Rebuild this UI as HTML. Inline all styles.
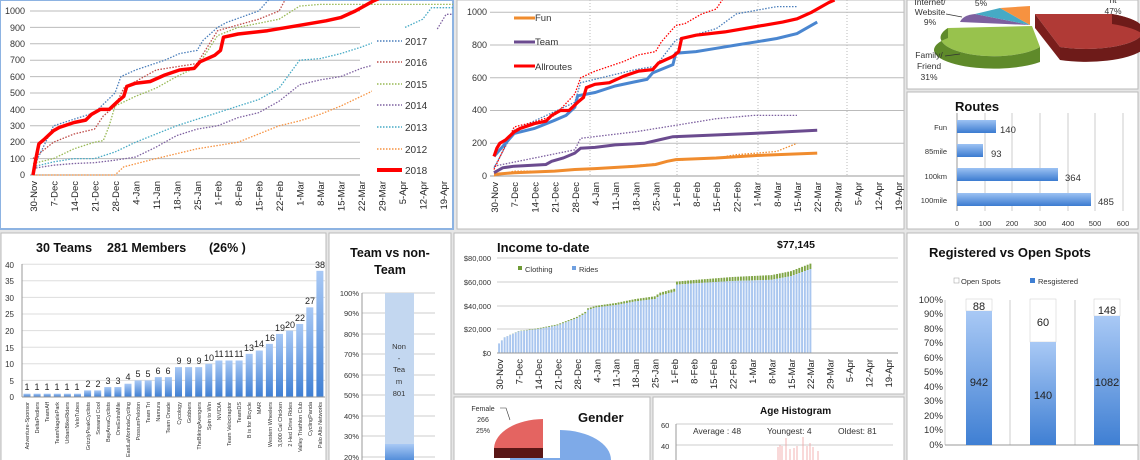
<!DOCTYPE html>
<html><head><meta charset="utf-8"><style>
html,body{margin:0;padding:0;background:#e6e6e6;}
svg{display:block;font-family:"Liberation Sans",sans-serif;}
.t{font-size:9px;fill:#333}
.d{font-size:9.5px;fill:#222}
</style></head><body>
<svg id="s" width="1140" height="460" viewBox="0 0 1140 460" xmlns="http://www.w3.org/2000/svg">
<defs>
<linearGradient id="bv" x1="0" y1="0" x2="0" y2="1"><stop offset="0" stop-color="#a9c9f5"/><stop offset="1" stop-color="#3f7fd3"/></linearGradient>
<linearGradient id="bh" x1="0" y1="0" x2="0" y2="1"><stop offset="0" stop-color="#9cc2f3"/><stop offset="1" stop-color="#3b7bd0"/></linearGradient>
<clipPath id="c1"><rect x="0" y="0" width="453" height="229"/></clipPath>
<clipPath id="c2"><rect x="456" y="0" width="448" height="229"/></clipPath>
</defs>
<rect x="0" y="0" width="453" height="229" fill="#fff" stroke="#8db3e2" stroke-width="2"/>
<rect x="457" y="0" width="447" height="229" fill="#fff" stroke="#bbb"/>
<rect x="907" y="0" width="231" height="89" fill="#fff" stroke="#bbb"/>
<rect x="907" y="92" width="231" height="137" fill="#fff" stroke="#bbb"/>
<rect x="907" y="233" width="231" height="230" fill="#fff" stroke="#bbb"/>
<rect x="1" y="233" width="325" height="230" fill="#fff" stroke="#bbb"/>
<rect x="329" y="233" width="122" height="230" fill="#fff" stroke="#bbb"/>
<rect x="454" y="233" width="450" height="161" fill="#fff" stroke="#bbb"/>
<rect x="454" y="397" width="196" height="66" fill="#fff" stroke="#bbb"/>
<rect x="653" y="397" width="251" height="66" fill="#fff" stroke="#bbb"/>

<g id="g1" clip-path="url(#c1)">
<g stroke="#999" stroke-width="1">
<line x1="30" y1="175" x2="360" y2="175"/>
</g>
<g class="t" text-anchor="end">
<text x="25" y="178">0</text><text x="25" y="162">100</text><text x="25" y="145">200</text><text x="25" y="129">300</text><text x="25" y="113">400</text><text x="25" y="96">500</text><text x="25" y="80">600</text><text x="25" y="63">700</text><text x="25" y="47">800</text><text x="25" y="31">900</text><text x="25" y="14">1000</text>
</g>
<g class="d" text-anchor="end">
<text transform="translate(37,181) rotate(-90)">30-Nov</text><text transform="translate(57.5,181) rotate(-90)">7-Dec</text><text transform="translate(78,181) rotate(-90)">14-Dec</text><text transform="translate(98.5,181) rotate(-90)">21-Dec</text><text transform="translate(119,181) rotate(-90)">28-Dec</text><text transform="translate(139.5,181) rotate(-90)">4-Jan</text><text transform="translate(160,181) rotate(-90)">11-Jan</text><text transform="translate(180.5,181) rotate(-90)">18-Jan</text><text transform="translate(201,181) rotate(-90)">25-Jan</text><text transform="translate(221.5,181) rotate(-90)">1-Feb</text><text transform="translate(242,181) rotate(-90)">8-Feb</text><text transform="translate(262.5,181) rotate(-90)">15-Feb</text><text transform="translate(283,181) rotate(-90)">22-Feb</text><text transform="translate(303.5,181) rotate(-90)">1-Mar</text><text transform="translate(324,181) rotate(-90)">8-Mar</text><text transform="translate(344.5,181) rotate(-90)">15-Mar</text><text transform="translate(365,181) rotate(-90)">22-Mar</text><text transform="translate(385.5,181) rotate(-90)">29-Mar</text><text transform="translate(406,181) rotate(-90)">5-Apr</text><text transform="translate(426.5,181) rotate(-90)">12-Apr</text><text transform="translate(447,181) rotate(-90)">19-Apr</text>
</g>
<rect x="372" y="30" width="75" height="145" fill="#fff"/>
<g font-size="10" fill="#333">
<text x="405" y="45">2017</text><text x="405" y="66">2016</text><text x="405" y="88">2015</text><text x="405" y="109">2014</text><text x="405" y="131">2013</text><text x="405" y="153">2012</text><text x="405" y="174">2018</text>
</g>
<g stroke-width="1.5" stroke-dasharray="1.5,1.5">
<line x1="377" y1="41" x2="402" y2="41" stroke="#4a7ebb"/><line x1="377" y1="62" x2="402" y2="62" stroke="#be4b48"/><line x1="377" y1="84" x2="402" y2="84" stroke="#98b954"/><line x1="377" y1="105" x2="402" y2="105" stroke="#7d60a0"/><line x1="377" y1="127" x2="402" y2="127" stroke="#46aac5"/><line x1="377" y1="149" x2="402" y2="149" stroke="#f69240"/>
</g>
<line x1="377" y1="170" x2="402" y2="170" stroke="#f00" stroke-width="4"/>
</g>

<g id="g2" clip-path="url(#c2)">
<g class="t" text-anchor="end">
<text x="487" y="179">0</text><text x="487" y="146">200</text><text x="487" y="113">400</text><text x="487" y="81">600</text><text x="487" y="48">800</text><text x="487" y="15">1000</text>
</g>
<g class="d" text-anchor="end">
<text transform="translate(498,182) rotate(-90)">30-Nov</text><text transform="translate(518.2,182) rotate(-90)">7-Dec</text><text transform="translate(538.4,182) rotate(-90)">14-Dec</text><text transform="translate(558.6,182) rotate(-90)">21-Dec</text><text transform="translate(578.8,182) rotate(-90)">28-Dec</text><text transform="translate(599,182) rotate(-90)">4-Jan</text><text transform="translate(619.2,182) rotate(-90)">11-Jan</text><text transform="translate(639.4,182) rotate(-90)">18-Jan</text><text transform="translate(659.6,182) rotate(-90)">25-Jan</text><text transform="translate(679.8,182) rotate(-90)">1-Feb</text><text transform="translate(700,182) rotate(-90)">8-Feb</text><text transform="translate(720.2,182) rotate(-90)">15-Feb</text><text transform="translate(740.4,182) rotate(-90)">22-Feb</text><text transform="translate(760.6,182) rotate(-90)">1-Mar</text><text transform="translate(780.8,182) rotate(-90)">8-Mar</text><text transform="translate(801,182) rotate(-90)">15-Mar</text><text transform="translate(821.2,182) rotate(-90)">22-Mar</text><text transform="translate(841.4,182) rotate(-90)">29-Mar</text><text transform="translate(861.6,182) rotate(-90)">5-Apr</text><text transform="translate(881.8,182) rotate(-90)">12-Apr</text><text transform="translate(902,182) rotate(-90)">19-Apr</text>
</g>
<g font-size="9.5" fill="#333"><text x="535" y="21">Fun</text><text x="535" y="45">Team</text><text x="535" y="70">Allroutes</text></g>
<line x1="514" y1="18" x2="535" y2="18" stroke="#f08c2e" stroke-width="3"/>
<line x1="514" y1="42" x2="535" y2="42" stroke="#6b4b8f" stroke-width="3"/>
<line x1="514" y1="66" x2="535" y2="66" stroke="#f00" stroke-width="3"/>
</g>

<g>
<path d="M1035,14 L1112,14 A50,16 0 0 1 1060,47 Z" fill="#b03a36"/>
<path d="M1060,47 A50,16 0 0 0 1112,14 L1112,24 A50,16 0 0 1 1060,60 Z" fill="#6e1b19"/>
<path d="M1035,14 L1060,47 L1060,60 L1035,28 Z" fill="#7a1e1c"/>
<path d="M1032,26 L948,28 A40,14 0 0 0 1040,47 Z" fill="#98c24d"/>
<path d="M948,28 A40,14 0 0 0 1040,47 L1040,62 A45,14 0 0 1 948,38 Z" fill="#5f8a2a"/>
<path d="M1030,25 L960,22 Q963,15 975,14 Z" fill="#7d60a0"/>
<path d="M1030,25 L975,14 L1000,8 Z" fill="#46aac5"/>
<path d="M1030,25 L1000,8 L1030,6 Z" fill="#f69240"/>
<g font-size="8.5" fill="#333" text-anchor="middle">
<text x="930" y="5">Internet/</text><text x="930" y="15">Website</text><text x="930" y="25">9%</text>
<text x="981" y="6">5%</text>
<text x="1113" y="3">nt</text><text x="1113" y="14">47%</text>
<text x="929" y="58">Family/</text><text x="929" y="69">Friend</text><text x="929" y="80">31%</text>
</g>
<polyline points="946,14 962,17" stroke="#333" fill="none" stroke-width="0.7"/>
<polyline points="945,56 960,54" stroke="#333" fill="none" stroke-width="0.7"/>
</g>

<g>
<text x="955" y="111" font-size="13" font-weight="bold" fill="#111">Routes</text>
<g stroke="#ccc"><line x1="985" y1="113" x2="985" y2="211"/><line x1="1012" y1="113" x2="1012" y2="211"/><line x1="1040" y1="113" x2="1040" y2="211"/><line x1="1068" y1="113" x2="1068" y2="211"/><line x1="1095" y1="113" x2="1095" y2="211"/><line x1="1123" y1="113" x2="1123" y2="211"/></g>
<line x1="957" y1="113" x2="957" y2="211" stroke="#999"/>
<rect x="957" y="120" width="39" height="13" fill="url(#bh)"/>
<rect x="957" y="144" width="26" height="13" fill="url(#bh)"/>
<rect x="957" y="168" width="101" height="13" fill="url(#bh)"/>
<rect x="957" y="193" width="134" height="13" fill="url(#bh)"/>
<g font-size="7.5" fill="#333" text-anchor="end"><text x="947" y="130">Fun</text><text x="947" y="154">85mile</text><text x="947" y="179">100km</text><text x="947" y="203">100mile</text></g>
<g font-size="9.5" fill="#333"><text x="1000" y="133">140</text><text x="991" y="157">93</text><text x="1065" y="181">364</text><text x="1098" y="205">485</text></g>
<g font-size="7.5" fill="#333" text-anchor="middle"><text x="957" y="226">0</text><text x="985" y="226">100</text><text x="1012" y="226">200</text><text x="1040" y="226">300</text><text x="1068" y="226">400</text><text x="1095" y="226">500</text><text x="1123" y="226">600</text></g>
</g>

<g>
<text x="929" y="257" font-size="13" font-weight="bold" fill="#111">Registered vs Open Spots</text>
<rect x="954" y="278" width="5" height="5" fill="#fff" stroke="#999" stroke-width="0.5"/><text x="961" y="284" font-size="7.5" fill="#333">Open Spots</text>
<rect x="1030" y="278" width="5" height="5" fill="#3f7fd3"/><text x="1038" y="284" font-size="7.5" fill="#333">Resgistered</text>
<g stroke="#ccc"><line x1="945" y1="300" x2="945" y2="445"/><line x1="1010" y1="300" x2="1010" y2="445"/><line x1="1075" y1="300" x2="1075" y2="445"/><line x1="1138" y1="300" x2="1138" y2="445"/></g>
<line x1="945" y1="445" x2="1138" y2="445" stroke="#999"/>
<g font-size="9.5" fill="#333" text-anchor="end">
<text x="943" y="303">100%</text><text x="943" y="317">90%</text><text x="943" y="332">80%</text><text x="943" y="346">70%</text><text x="943" y="361">60%</text><text x="943" y="375">50%</text><text x="943" y="390">40%</text><text x="943" y="404">30%</text><text x="943" y="419">20%</text><text x="943" y="433">10%</text><text x="943" y="448">0%</text>
</g>
<rect x="966" y="299" width="26" height="12" fill="#fff" stroke="#ccc" stroke-width="0.5"/>
<rect x="966" y="311" width="26" height="134" fill="url(#bv)"/>
<rect x="1030" y="299" width="26" height="43" fill="#fff" stroke="#ccc" stroke-width="0.5"/>
<rect x="1030" y="342" width="26" height="103" fill="url(#bv)"/>
<rect x="1094" y="299" width="26" height="17" fill="#fff" stroke="#ccc" stroke-width="0.5"/>
<rect x="1094" y="316" width="26" height="129" fill="url(#bv)"/>
<g font-size="11" fill="#222" text-anchor="middle">
<text x="979" y="310">88</text><text x="979" y="386">942</text>
<text x="1043" y="326">60</text><text x="1043" y="399">140</text>
<text x="1107" y="314">148</text><text x="1107" y="386">1082</text>
</g>
</g>

<g id="gt">
<g font-size="12.5" font-weight="bold" fill="#111"><text x="36" y="252">30 Teams</text><text x="107" y="252">281 Members</text><text x="209" y="252">(26% )</text></g>
<line x1="22" y1="264" x2="22" y2="397" stroke="#999"/>
<line x1="22" y1="397" x2="325" y2="397" stroke="#999"/>
<g font-size="8" fill="#333" text-anchor="end">
<text x="14" y="400">0</text><text x="14" y="384">5</text><text x="14" y="367">10</text><text x="14" y="351">15</text><text x="14" y="334">20</text><text x="14" y="317">25</text><text x="14" y="301">30</text><text x="14" y="284">35</text><text x="14" y="268">40</text>
</g>
<g font-size="9" fill="#222" text-anchor="middle" id="tv">
<text x="27" y="390">1</text><text x="37" y="390">1</text><text x="47" y="390">1</text><text x="57" y="390">1</text><text x="67" y="390">1</text><text x="77" y="390">1</text><text x="88" y="387">2</text><text x="98" y="387">2</text><text x="108" y="384">3</text><text x="118" y="384">3</text><text x="128" y="380">4</text><text x="138" y="377">5</text><text x="148" y="377">5</text><text x="158" y="374">6</text><text x="168" y="374">6</text><text x="179" y="364">9</text><text x="189" y="364">9</text><text x="199" y="364">9</text><text x="209" y="361">10</text><text x="219" y="357">11</text><text x="229" y="357">11</text><text x="239" y="357">11</text><text x="249" y="351">13</text><text x="259" y="347">14</text><text x="270" y="341">16</text><text x="280" y="331">19</text><text x="290" y="328">20</text><text x="300" y="321">22</text><text x="310" y="304">27</text><text x="320" y="268">38</text>
</g>
<g font-size="5.5" fill="#333" text-anchor="end">
<text transform="translate(29,402) rotate(-90)">Adventure-Sponsor</text><text transform="translate(39,402) rotate(-90)">DeltaPedlers</text><text transform="translate(49,402) rotate(-90)">TeamAff</text><text transform="translate(59,402) rotate(-90)">TeamNagelePark</text><text transform="translate(69,402) rotate(-90)">UrbanBikeRiders</text><text transform="translate(79,402) rotate(-90)">VeloTubes</text><text transform="translate(90,402) rotate(-90)">GrizzlyPeakCyclists</text><text transform="translate(100,402) rotate(-90)">Sowand Cool</text><text transform="translate(110,402) rotate(-90)">BayAreaCyclists</text><text transform="translate(120,402) rotate(-90)">OneExtraMile</text><text transform="translate(130,402) rotate(-90)">EastLaMorindaCycling</text><text transform="translate(140,402) rotate(-90)">PossumPeloton</text><text transform="translate(150,402) rotate(-90)">Team Tri</text><text transform="translate(160,402) rotate(-90)">Namura</text><text transform="translate(170,402) rotate(-90)">Team Onade</text><text transform="translate(181,402) rotate(-90)">Cycology</text><text transform="translate(191,402) rotate(-90)">Gobbers</text><text transform="translate(201,402) rotate(-90)">TheBikingAvengers</text><text transform="translate(211,402) rotate(-90)">Spin to Win</text><text transform="translate(221,402) rotate(-90)">NVIDIA</text><text transform="translate(231,402) rotate(-90)">Team Velociraptor</text><text transform="translate(241,402) rotate(-90)">TeamDS</text><text transform="translate(251,402) rotate(-90)">B is for Bicycle</text><text transform="translate(261,402) rotate(-90)">MAR</text><text transform="translate(272,402) rotate(-90)">Western Wheelers</text><text transform="translate(282,402) rotate(-90)">3,000 Cal Chicken</text><text transform="translate(292,402) rotate(-90)">2 Hed Drive Rides</text><text transform="translate(302,402) rotate(-90)">Valley Triathlon Club</text><text transform="translate(312,402) rotate(-90)">CyclingPanda</text><text transform="translate(322,402) rotate(-90)">Palo Alto Networks</text>
</g>
</g>

<g>
<text x="390" y="257" font-size="12.5" font-weight="bold" fill="#111" text-anchor="middle">Team vs non-</text>
<text x="390" y="274" font-size="12.5" font-weight="bold" fill="#111" text-anchor="middle">Team</text>
<g stroke="#ccc"><line x1="362" y1="293" x2="435" y2="293"/><line x1="362" y1="313" x2="435" y2="313"/><line x1="362" y1="334" x2="435" y2="334"/><line x1="362" y1="354" x2="435" y2="354"/><line x1="362" y1="375" x2="435" y2="375"/><line x1="362" y1="395" x2="435" y2="395"/><line x1="362" y1="416" x2="435" y2="416"/><line x1="362" y1="436" x2="435" y2="436"/><line x1="362" y1="457" x2="435" y2="457"/></g>
<line x1="362" y1="293" x2="362" y2="460" stroke="#999"/>
<g font-size="7.5" fill="#333" text-anchor="end">
<text x="359" y="296">100%</text><text x="359" y="316">90%</text><text x="359" y="337">80%</text><text x="359" y="357">70%</text><text x="359" y="378">60%</text><text x="359" y="398">50%</text><text x="359" y="419">40%</text><text x="359" y="439">30%</text><text x="359" y="460">20%</text>
</g>
<rect x="385" y="293" width="29" height="152" fill="#c3d7f0"/>
<rect x="385" y="444" width="29" height="20" fill="url(#bv)"/>
<g font-size="7.5" fill="#333" text-anchor="middle"><text x="399" y="349">Non</text><text x="399" y="361">-</text><text x="399" y="372">Tea</text><text x="399" y="384">m</text><text x="399" y="396">801</text></g>
</g>

<g id="gi">
<text x="497" y="252" font-size="13" font-weight="bold" fill="#111">Income to-date</text>
<text x="777" y="248" font-size="10.5" font-weight="bold" fill="#111">$77,145</text>
<g stroke="#ccc"><line x1="497" y1="258" x2="898" y2="258"/><line x1="497" y1="282" x2="898" y2="282"/><line x1="497" y1="306" x2="898" y2="306"/><line x1="497" y1="329" x2="898" y2="329"/></g>
<line x1="497" y1="353" x2="898" y2="353" stroke="#999"/>
<g font-size="7.5" fill="#333" text-anchor="end"><text x="491" y="261">$80,000</text><text x="491" y="285">$60,000</text><text x="491" y="309">$40,000</text><text x="491" y="332">$20,000</text><text x="491" y="356">$0</text></g>
<rect x="518" y="266" width="4" height="4" fill="#6e9a35"/><text x="525" y="272" font-size="7.5" fill="#333">Clothing</text>
<rect x="572" y="266" width="4" height="4" fill="#6fa0e0"/><text x="579" y="272" font-size="7.5" fill="#333">Rides</text>
<g class="d" font-size="8.5" text-anchor="end">
<text transform="translate(503,359) rotate(-90)">30-Nov</text><text transform="translate(522.5,359) rotate(-90)">7-Dec</text><text transform="translate(542,359) rotate(-90)">14-Dec</text><text transform="translate(561.4,359) rotate(-90)">21-Dec</text><text transform="translate(580.8,359) rotate(-90)">28-Dec</text><text transform="translate(600.3,359) rotate(-90)">4-Jan</text><text transform="translate(619.7,359) rotate(-90)">11-Jan</text><text transform="translate(639.2,359) rotate(-90)">18-Jan</text><text transform="translate(658.6,359) rotate(-90)">25-Jan</text><text transform="translate(678,359) rotate(-90)">1-Feb</text><text transform="translate(697.5,359) rotate(-90)">8-Feb</text><text transform="translate(717,359) rotate(-90)">15-Feb</text><text transform="translate(736.4,359) rotate(-90)">22-Feb</text><text transform="translate(755.8,359) rotate(-90)">1-Mar</text><text transform="translate(775.3,359) rotate(-90)">8-Mar</text><text transform="translate(794.8,359) rotate(-90)">15-Mar</text><text transform="translate(814.2,359) rotate(-90)">22-Mar</text><text transform="translate(833.6,359) rotate(-90)">29-Mar</text><text transform="translate(853,359) rotate(-90)">5-Apr</text><text transform="translate(872.5,359) rotate(-90)">12-Apr</text><text transform="translate(892,359) rotate(-90)">19-Apr</text>
</g>
</g>

<g>
<text x="578" y="422" font-size="13" font-weight="bold" fill="#111">Gender</text>
<g font-size="7" fill="#333" text-anchor="middle"><text x="483" y="411">Female</text><text x="483" y="422">266</text><text x="483" y="433">25%</text></g>
<polyline points="500,408 506,408 510,420" fill="none" stroke="#333" stroke-width="0.6"/>
<path d="M543,419 L543,448 L494,448 A50,30 0 0 1 543,419 Z" fill="#e46461"/>
<rect x="494" y="448" width="49" height="10" fill="#5a1716"/>
<path d="M560,430 L560,460 L611,460 A52,30 0 0 0 560,430 Z" fill="#7eaae8"/>
<rect x="510" y="458" width="50" height="3" fill="#7eaae8"/>
</g>

<g>
<text x="760" y="414" font-size="10" font-weight="bold" fill="#111">Age Histogram</text>
<text x="661" y="428" font-size="7.5" fill="#333">60</text><text x="661" y="449" font-size="7.5" fill="#333">40</text>
<line x1="676" y1="424" x2="893" y2="424" stroke="#ccc"/><line x1="676" y1="445" x2="893" y2="445" stroke="#ccc"/>
<line x1="676" y1="424" x2="676" y2="460" stroke="#999"/>
<g font-size="8.5" fill="#333"><text x="693" y="434">Average : 48</text><text x="767" y="434">Youngest: 4</text><text x="838" y="434">Oldest: 81</text></g>
<g stroke="#f0a0a0" stroke-width="0.8"><line x1="778" y1="460" x2="778" y2="447"/><line x1="780" y1="460" x2="780" y2="445"/><line x1="782" y1="460" x2="782" y2="446"/><line x1="786" y1="460" x2="786" y2="438"/><line x1="790" y1="460" x2="790" y2="449"/><line x1="794" y1="460" x2="794" y2="448"/><line x1="797" y1="460" x2="797" y2="446"/><line x1="803" y1="460" x2="803" y2="437"/><line x1="807" y1="460" x2="807" y2="446"/><line x1="810" y1="460" x2="810" y2="443"/><line x1="813" y1="460" x2="813" y2="447"/><line x1="818" y1="460" x2="818" y2="451"/></g>
</g>

<g id="dyn"></g>
</svg>
<script>
var NS="http://www.w3.org/2000/svg";
function add(p,n,a){var e=document.createElementNS(NS,n);for(var k in a)e.setAttribute(k,a[k]);p.appendChild(e);return e;}
function interp(pts){var o=[];for(var i=0;i<pts.length-1;i++){var a=pts[i],b=pts[i+1];for(var d=a[0];d<b[0];d++){o.push([d,a[1]+(b[1]-a[1])*(d-a[0])/(b[0]-a[0])]);}}o.push(pts[pts.length-1]);return o;}
function line(g,pts,X,Y,st){var s=pts.map(function(p){return X(p[0]).toFixed(1)+","+Y(p[1]).toFixed(1)}).join(" ");var a={points:s,fill:"none"};for(var k in st)a[k]=st[k];add(g,"polyline",a);}
var g1=document.getElementById("g1");
var grid1=document.createElementNS(NS,"g");g1.insertBefore(grid1,g1.firstChild);
for(var v=100;v<=1000;v+=100)add(grid1,"line",{x1:30,x2:360,y1:175-v*0.164,y2:175-v*0.164,stroke:"#bbb"});
var X1=function(d){return 33+d*2.93},Y1=function(v){return 175-v*0.164};
var lg=document.createElementNS(NS,"g");g1.insertBefore(lg,g1.querySelector("rect[x='372']"));
function ds(c){return {"stroke-width":1.3,"stroke-dasharray":"1.5,1.5",stroke:c}}
line(lg,[[0,0],[28,0],[31,50],[42,100],[49,130],[56,160],[63,180],[70,200],[77,250],[84,300],[91,330],[98,370],[105,420],[112,480],[118,530]],X1,Y1,ds("#f69240"));
line(lg,[[147,900],[150,900]],X1,Y1,ds("#f69240"));
line(lg,[[0,50],[7,80],[14,100],[21,100],[28,140],[35,200],[42,250],[49,300],[56,340],[63,380],[70,420],[77,460],[84,530],[91,700],[98,710],[105,740],[112,780],[118,820]],X1,Y1,ds("#46aac5"));
line(lg,[[127,900],[133,950],[136,1020],[150,1020]],X1,Y1,ds("#46aac5"));
line(lg,[[0,40],[7,60],[14,70],[21,75],[28,90],[35,110],[42,170],[49,240],[56,280],[63,300],[70,350],[77,380],[84,450],[91,550],[98,580],[105,600],[112,650],[118,680]],X1,Y1,ds("#7d60a0"));
line(lg,[[138,890],[141,980],[150,980]],X1,Y1,ds("#7d60a0"));
line(lg,[[0,70],[7,100],[14,160],[21,200],[24,210],[26,300],[28,420],[35,480],[42,530],[49,600],[56,660],[63,850],[70,900],[84,950],[91,1030],[98,1040],[150,1040]],X1,Y1,ds("#98b954"));
line(lg,[[0,100],[7,200],[14,250],[21,280],[24,360],[28,420],[31,530],[42,640],[56,680],[63,880],[77,950],[84,1000],[87,1100]],X1,Y1,ds("#be4b48"));
line(lg,[[0,40],[7,300],[14,340],[21,380],[28,500],[30,600],[35,640],[45,700],[50,740],[56,760],[58,820],[63,900],[66,930],[77,1000],[82,1100]],X1,Y1,ds("#4a7ebb"));
var r18=[[0,0],[1,100],[2,190],[4,220],[7,270],[9,290],[14,320],[18,335],[20,370],[23,400],[26,400],[29,450],[31,480],[32,540],[35,560],[40,570],[45,610],[50,640],[55,650],[57,690],[62,730],[64,760],[65,840],[70,860],[80,880],[90,910],[100,940],[105,960],[110,1000],[116,1060],[118,1075]];
line(lg,r18,X1,Y1,{stroke:"#f00","stroke-width":3.5,"stroke-linejoin":"round"});
var g2=document.getElementById("g2");
var X2=function(d){return 494+d*2.886},Y2=function(v){return 176-v*0.1637};
var gr2=document.createElementNS(NS,"g");g2.insertBefore(gr2,g2.firstChild);
for(var v=200;v<=1000;v+=200)add(gr2,"line",{x1:490,x2:904,y1:Y2(v),y2:Y2(v),stroke:"#bbb"});
add(gr2,"line",{x1:490,x2:904,y1:176,y2:176,stroke:"#999"});
[590,677,758,847].forEach(function(x){add(gr2,"line",{x1:x,x2:x,y1:0,y2:176,stroke:"#bbb","stroke-dasharray":"1,2"})});
var l2=document.createElementNS(NS,"g");g2.appendChild(l2);
line(l2,[[0,0],[7,30],[21,30],[28,40],[35,45],[49,65],[56,75],[63,95],[77,110],[84,130],[91,140],[98,150],[105,200]],X2,Y2,ds("#f08c2e"));
line(l2,[[0,60],[14,110],[28,160],[30,230],[49,270],[63,310],[77,350],[90,370],[105,370]],X2,Y2,ds("#7d60a0"));
line(l2,[[0,50],[7,280],[28,450],[30,570],[49,650],[56,670],[63,830],[77,900],[84,990],[98,1035],[105,1035]],X2,Y2,ds("#4a7ebb"));
line(l2,[[0,40],[7,300],[14,330],[21,370],[28,500],[30,600],[35,640],[45,700],[50,740],[56,760],[58,820],[63,920],[66,930],[72,990],[77,1020],[80,1100]],X2,Y2,ds("#f00"));
line(l2,[[0,10],[7,20],[21,30],[28,40],[35,45],[49,60],[56,70],[60,90],[63,100],[77,110],[91,125],[112,140]],X2,Y2,{stroke:"#f08c2e","stroke-width":3});
line(l2,[[0,20],[3,50],[7,60],[18,70],[20,90],[24,110],[28,140],[30,170],[35,175],[42,190],[52,200],[57,220],[62,240],[90,260],[112,280]],X2,Y2,{stroke:"#6b4b8f","stroke-width":3});
line(l2,[[0,120],[7,260],[14,290],[21,340],[25,370],[28,420],[29,490],[35,510],[42,550],[50,580],[53,590],[55,630],[62,680],[63,750],[70,760],[77,780],[84,800],[91,820],[98,840],[105,870],[112,940]],X2,Y2,{stroke:"#4a86d0","stroke-width":3});
line(l2,[[0,120],[1,170],[2,200],[4,220],[7,270],[9,290],[14,320],[18,335],[20,370],[23,400],[26,400],[29,450],[31,480],[32,540],[35,560],[40,570],[45,610],[50,640],[55,650],[57,690],[62,730],[64,760],[65,840],[70,860],[80,880],[90,910],[100,940],[105,960],[110,1000],[116,1060],[118,1075]],X2,Y2,{stroke:"#f00","stroke-width":3.2});
var gt=document.getElementById("gt");var tv=[1,1,1,1,1,1,2,2,3,3,4,5,5,6,6,9,9,9,10,11,11,11,13,14,16,19,20,22,27,38];
var bg=document.createElementNS(NS,"g");gt.insertBefore(bg,gt.firstChild.nextSibling);
for(var v=5;v<=40;v+=5)add(bg,"line",{x1:22,x2:325,y1:397-v*3.32,y2:397-v*3.32,stroke:"#ddd"});
tv.forEach(function(v,i){var x=27+i*10.1;add(bg,"rect",{x:x-3.5,y:397-v*3.32,width:7,height:v*3.32,fill:"url(#bv)"})});
var gi=document.getElementById("gi");var ib=document.createElementNS(NS,"g");gi.insertBefore(ib,gi.querySelector("line[y1='353']"));
var inc=interp([[0,8000],[2,13000],[7,18000],[14,20000],[21,23000],[28,29000],[31,33000],[32,36000],[35,38000],[42,40000],[49,43000],[56,45000],[58,48000],[63,51000],[64,57000],[70,58000],[84,60000],[98,61000],[105,64000],[112,70000]]);
inc.forEach(function(p){var x=499+p[0]*2.78,h=p[1]*0.0012;var c=Math.min(p[0]*40,5500)*0.0012;add(ib,"rect",{x:x-0.9,y:353-h-c,width:1.9,height:c,fill:"#7fa545"});add(ib,"rect",{x:x-0.9,y:353-h,width:1.9,height:h,fill:"#a9c6ef"});});
</script>
</body></html>
